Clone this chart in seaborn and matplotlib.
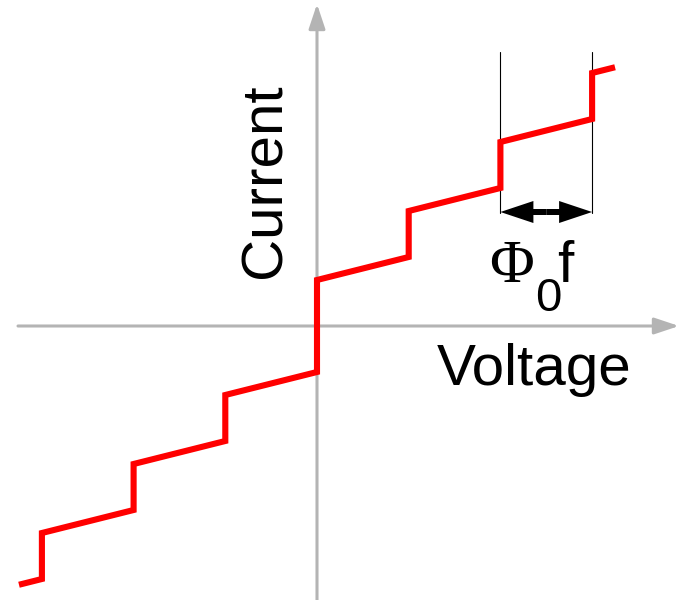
import numpy as np
import pandas as pd
import matplotlib
matplotlib.use("Agg")
import matplotlib.pyplot as plt
from matplotlib.patches import FancyArrow
import seaborn as sns

# Shapiro-step I-V curve (voltage in units of step spacing Phi0*f)
voltage = [-3.25, -3, -3, -2, -2, -1, -1, 0, 0, 1, 1, 2, 2, 3, 3, 3.25]
current = [-11.25, -11, -9, -8, -6, -5, -3, -2, 2, 3, 5, 6, 8, 9, 11, 11.25]
x_label = "Voltage"
y_label = "Current"
step_span = [2, 3]   # step width annotated as Phi0 f

sns.set_theme(style="white")
plt.rcParams["font.family"] = ["Liberation Sans", "DejaVu Sans"]
plt.rcParams["text.color"] = "black"

W, H = 677, 600
fig = plt.figure(figsize=(W / 100, H / 100), dpi=100)
ax = fig.add_axes([0, 0, 1, 1])
ax.set_axis_off()

XS, YS, X0, Y0 = 91.7, 23.0, 317, 326
ax.set_xlim(-X0 / XS, (W - X0) / XS)
ax.set_ylim((Y0 - H) / YS, Y0 / YS)


def px(x, y):
    return (x - X0) / XS, (Y0 - y) / YS


grey = "#b4b4b4"
# axes with arrows
ax.annotate("", xy=px(317, 4), xytext=px(317, 602), annotation_clip=False,
            arrowprops=dict(arrowstyle="-|>,head_length=1.5,head_width=0.5",
                            mutation_scale=10, color=grey, lw=2.2,
                            shrinkA=0, shrinkB=0))
ax.annotate("", xy=px(679, 326), xytext=px(18, 326), annotation_clip=False,
            arrowprops=dict(arrowstyle="-|>,head_length=1.5,head_width=0.5",
                            mutation_scale=10, color=grey, lw=2.2,
                            shrinkA=0, shrinkB=0))

# red I-V curve
df = pd.DataFrame({"V": voltage, "I": current})
sns.lineplot(data=df, x="V", y="I", sort=False, estimator=None, color="#ff0000",
             lw=4.4, ax=ax, solid_capstyle="butt", solid_joinstyle="miter", zorder=3)

# step width marker
y_top = px(0, 52)[1]
y_arr = px(0, 212)[1]
for v in step_span:
    ax.plot([v, v], [px(0, 213)[1], y_top], color="black", lw=0.8, zorder=2)
mid = 0.5 * (step_span[0] + step_span[1])
for end in step_span:
    ax.add_patch(FancyArrow(mid, y_arr, end - mid, 0, width=6 / YS,
                            head_width=22 / YS, head_length=33 / XS,
                            length_includes_head=True, color="black",
                            lw=0, zorder=4))

# labels
ax.text(*px(437, 385), x_label, fontsize=42, ha="left", va="baseline",
        color="black", family=["Liberation Sans", "DejaVu Sans"])
ax.text(*px(281, 181), y_label, fontsize=42, ha="center", va="baseline",
        rotation=90, rotation_mode="anchor", color="black",
        family=["Liberation Sans", "DejaVu Sans"])
ax.text(*px(489, 282), "\u03a6", fontsize=44, ha="left", va="baseline",
        color="black", family=["Liberation Serif", "DejaVu Serif"])
ax.text(*px(535, 311), "0", fontsize=34, ha="left", va="baseline",
        color="black", family=["Liberation Sans", "DejaVu Sans"])
ax.text(*px(557, 282), "f", fontsize=42, ha="left", va="baseline",
        color="black", family=["Liberation Sans", "DejaVu Sans"])

fig.savefig("out.png", dpi=100, facecolor="white")
